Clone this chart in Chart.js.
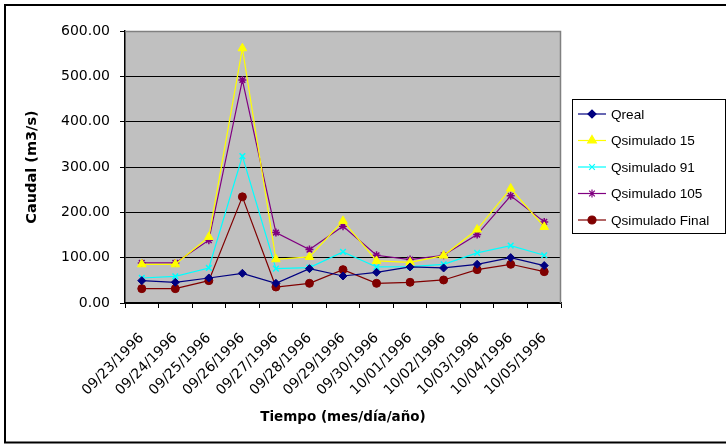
<!DOCTYPE html>
<html>
<head>
<meta charset="utf-8">
<script src="https://cdn.jsdelivr.net/npm/chart.js@4/dist/chart.umd.min.js"></script>
<style>
html,body{margin:0;padding:0;background:#fff;}
#wrap{width:726px;height:445px;position:relative;}
</style>
</head>
<body>
<div id="wrap"><canvas id="c" width="726" height="445"></canvas></div>
<script>
const categories = ["09/23/1996","09/24/1996","09/25/1996","09/26/1996","09/27/1996","09/28/1996","09/29/1996","09/30/1996","10/01/1996","10/02/1996","10/03/1996","10/04/1996","10/05/1996"];
const qReal = [49.3, 45.7, 55.2, 65.5, 43.4, 75.8, 59.6, 67.7, 79.5, 77.3, 85.4, 100.1, 82.5];
const qSim15 = [85.4, 85.4, 145.8, 561.9, 96.5, 101.6, 181.1, 92.8, 89.8, 104.6, 162.0, 252.6, 167.9];
const qSim91 = [55.2, 58.9, 77.3, 324.0, 75.8, 78.1, 112.7, 79.5, 80.3, 85.4, 110.5, 126.7, 105.3];
const qSim105 = [88.4, 88.4, 138.4, 491.9, 155.4, 117.8, 169.4, 105.3, 95.7, 105.3, 151.0, 236.4, 178.9];
const qSimFinal = [31.7, 31.7, 49.3, 234.2, 35.3, 43.4, 73.6, 43.4, 45.7, 50.8, 73.6, 85.4, 69.2];
const seriesNames = ["Qreal","Qsimulado 15","Qsimulado 91","Qsimulado 105","Qsimulado Final"];
const yTickValues = [0,100,200,300,400,500,600];

const FONT = "'Liberation Sans', Arial, sans-serif";
const AXFONT = "'DejaVu Sans', sans-serif";

function ds(label, data, color, style, radius, bw) {
  return {
    label, data,
    borderColor: color, backgroundColor: color,
    pointBackgroundColor: color, pointBorderColor: color,
    pointStyle: style, pointRadius: radius, pointHoverRadius: radius,
    pointBorderWidth: bw, borderWidth: 1.2, tension: 0, fill: false
  };
}

const bgPlugin = {
  id: 'bg',
  beforeDraw(chart) {
    const {ctx, chartArea: a} = chart;
    ctx.save();
    ctx.fillStyle = '#fff';
    ctx.fillRect(0, 0, chart.width, chart.height);
    ctx.fillStyle = '#C0C0C0';
    ctx.fillRect(a.left, a.top, a.right - a.left, a.bottom - a.top);
    ctx.restore();
  },
  beforeDatasetsDraw(chart) {
    const {ctx, chartArea: a} = chart;
    ctx.save();
    ctx.strokeStyle = '#808080';
    ctx.lineWidth = 1.5;
    ctx.beginPath();
    ctx.moveTo(a.left, a.top + 0.5);
    ctx.lineTo(a.right - 0.5, a.top + 0.5);
    ctx.lineTo(a.right - 0.5, a.bottom);
    ctx.stroke();
    ctx.restore();
  },
  afterDraw(chart) {
    const ctx = chart.ctx;
    ctx.save();
    ctx.strokeStyle = '#000';
    ctx.lineWidth = 2;
    ctx.beginPath();
    ctx.moveTo(740, 5);
    ctx.lineTo(5, 5);
    ctx.lineTo(5, 442.5);
    ctx.lineTo(740, 442.5);
    ctx.stroke();
    ctx.lineWidth = 1;
    ctx.strokeRect(572.5, 99.5, 153, 134);
    const rows = [114, 140.5, 167, 193.5, 220];
    ctx.font = '13.6px ' + FONT;
    ctx.textBaseline = 'middle';
    ctx.textAlign = 'left';
    chart.data.datasets.forEach((d, i) => {
      const y = rows[i];
      ctx.strokeStyle = d.borderColor;
      ctx.lineWidth = 1.2;
      ctx.beginPath();
      ctx.moveTo(578, y);
      ctx.lineTo(606, y);
      ctx.stroke();
      ctx.fillStyle = d.pointBackgroundColor;
      ctx.strokeStyle = d.pointBorderColor;
      if (Chart.helpers && Chart.helpers.drawPoint) {
        Chart.helpers.drawPoint(ctx, {pointStyle: d.pointStyle, radius: d.pointRadius, borderWidth: d.pointBorderWidth, rotation: 0}, 592, y);
      }
      ctx.fillStyle = '#000';
      ctx.fillText(d.label, 611, y + 1);
    });
    ctx.restore();
  }
};

new Chart(document.getElementById('c'), {
  type: 'line',
  data: {
    labels: categories,
    datasets: [
      ds(seriesNames[0], qReal, '#000080', 'rectRot', 4, 1),
      ds(seriesNames[1], qSim15, '#FFFF00', 'triangle', 5, 1),
      ds(seriesNames[2], qSim91, '#00FFFF', 'crossRot', 4, 1.5),
      ds(seriesNames[3], qSim105, '#800080', 'star', 4, 1.5),
      ds(seriesNames[4], qSimFinal, '#800000', 'circle', 4, 1)
    ]
  },
  options: {
    responsive: false,
    animation: false,
    events: [],
    layout: { padding: { left: 0, top: 31, right: 165, bottom: 0 } },
    plugins: { legend: { display: false }, tooltip: { enabled: false } },
    scales: {
      x: {
        offset: true,
        grid: { offset: true, drawOnChartArea: false, color: '#000', tickLength: 5, tickColor: '#000' },
        border: { color: '#000', width: 1.5 },
        ticks: { color: '#000', font: { family: AXFONT, size: 14 }, minRotation: 45, maxRotation: 45, padding: 22, autoSkip: false },
        title: { display: true, text: 'Tiempo (mes/día/año)', color: '#000', font: { family: AXFONT, size: 13.5, weight: 'bold' }, padding: { top: 0, bottom: 19 } },
        afterFit(s) { s.height = 142; }
      },
      y: {
        min: 0, max: 600,
        afterBuildTicks(s) { s.ticks = yTickValues.map(v => ({ value: v })); },
        grid: { color: '#000', tickLength: 5, tickColor: '#000', lineWidth: 1 },
        border: { color: '#000', width: 1.5 },
        ticks: { color: '#000', font: { family: AXFONT, size: 14 }, padding: 10, callback: v => Number(v).toFixed(2) },
        title: { display: true, text: 'Caudal (m3/s)', color: '#000', font: { family: AXFONT, size: 14.5, weight: 'bold' }, padding: { top: 24, bottom: 0 } },
        afterFit(s) { s.width = 125; }
      }
    }
  },
  plugins: [bgPlugin]
});
</script>
</body>
</html>
